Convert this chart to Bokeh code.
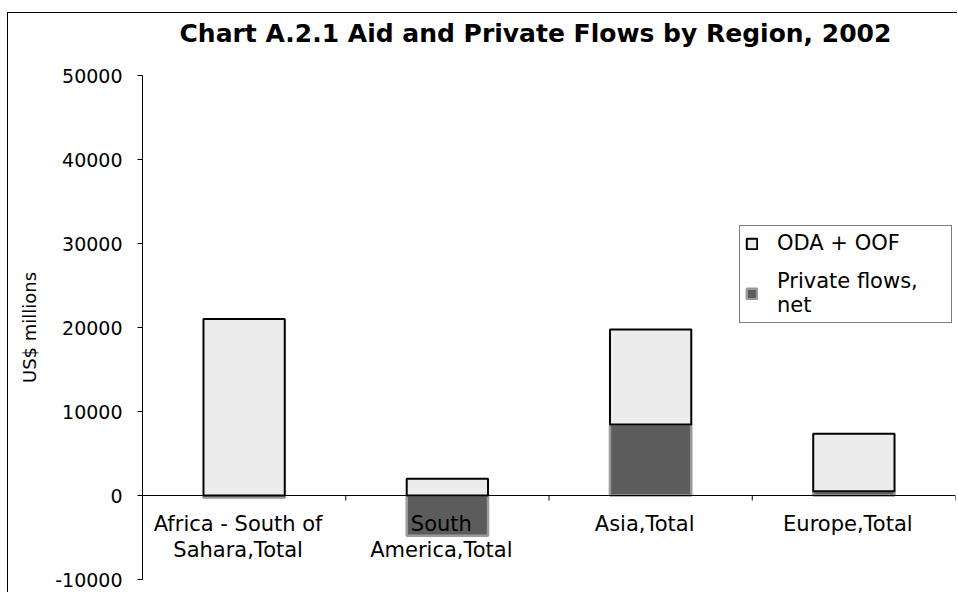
from bokeh.plotting import figure
from bokeh.models import Span, FixedTicker, ColumnDataSource, Legend, LegendItem, NumeralTickFormatter, Title
from bokeh.core.properties import value
from bokeh.embed import file_html
from bokeh.resources import INLINE

# ---- data ----
categories = ["Africa - South of\nSahara,Total", "South\nAmerica,Total", "Asia,Total", "Europe,Total"]
oda_oof = [21000, 2000, 11300, 6850]
private_net = [-250, -4800, 8450, 500]
y_ticks = [-10000, 0, 10000, 20000, 30000, 40000, 50000]
title_text = "Chart A.2.1 Aid and Private Flows by Region, 2002"
y_label = "US$ millions"
legend_labels = ["ODA + OOF", "Private flows,\nnet"]

# ---- stacking (Excel-style: negatives go below zero) ----
xc = [i + 0.5 for i in range(len(categories))]
priv_bottom = [min(0, v) for v in private_net]
priv_top = [max(0, v) for v in private_net]
oda_bottom = list(priv_top)
oda_top = [b + v for b, v in zip(oda_bottom, oda_oof)]
bounds = [i + 1 for i in range(len(categories))]

src = ColumnDataSource(dict(x=xc, pb=priv_bottom, pt=priv_top, ob=oda_bottom, ot=oda_top,
                            lab=categories, zero=[0] * len(categories)))

FONT = "DejaVu Sans"

p = figure(width=950, height=580, x_range=(0, len(categories)), y_range=(y_ticks[0], y_ticks[-1]),
           output_backend="svg", toolbar_location=None, x_axis_location=None,
           min_border_left=134, min_border_right=3, min_border_top=62, min_border_bottom=14)
p.styles = {"border-left": "1px solid black", "border-top": "1px solid black",
            "margin-left": "7px", "margin-top": "12px"}
p.grid.visible = False
p.outline_line_color = None
p.background_fill_color = "white"
p.border_fill_color = "white"

# title: a blank spacer sits between the frame and the real title
spacer = Title(text=" ", text_font_size="10px", standoff=13)
p.add_layout(spacer, "above")
main_title = Title(text=title_text, text_font=FONT, text_font_style="bold", text_font_size="25px",
                   text_color="black", align="left", vertical_align="top", offset=37, standoff=0)
p.add_layout(main_title, "above")

# y axis
ya = p.yaxis[0]
ya.ticker = FixedTicker(ticks=y_ticks, minor_ticks=[])
ya.formatter = NumeralTickFormatter(format="0")
ya.major_tick_out = 5
ya.major_tick_in = 0
ya.minor_tick_out = 0
ya.minor_tick_in = 0
ya.axis_line_color = "black"
ya.major_tick_line_color = "black"
ya.major_label_text_font = FONT
ya.major_label_text_font_size = "19px"
ya.major_label_text_color = "black"
ya.major_label_standoff = 15
ya.axis_label = y_label
ya.axis_label_text_font = FONT
ya.axis_label_text_font_size = "18px"
ya.axis_label_text_font_style = "normal"
ya.axis_label_text_color = "black"
ya.axis_label_standoff = 12

# bars
r_priv = p.vbar(x="x", bottom="pb", top="pt", width=0.4, source=src,
                fill_color="#5c5c5c", line_color="#9a9a9a", line_width=2.5)
r_oda = p.vbar(x="x", bottom="ob", top="ot", width=0.4, source=src,
               fill_color="#ececec", line_color="black", line_width=2)

# category axis drawn at zero
p.add_layout(Span(location=0, dimension="width", line_color="black", line_width=1))
p.segment(x0=bounds, y0=[0] * len(bounds), x1=bounds, y1=[-600] * len(bounds),
          line_color="black", line_width=1)
p.text(x="x", y="zero", text="lab", source=src, text_align="center", text_baseline="top",
       y_offset=16, x_offset=-6, text_font=value(FONT), text_font_size="21px",
       text_line_height=1.09, text_color="black")

legend = Legend(items=[LegendItem(label=legend_labels[0], renderers=[r_oda]),
                       LegendItem(label=legend_labels[1], renderers=[r_priv])],
                location=(597, 256), margin=0, padding=5, spacing=14,
                glyph_width=13, glyph_height=13, label_standoff=19, label_width=169,
                label_text_font=FONT, label_text_font_size="21px", label_text_color="black",
                label_text_line_height=1.7,
                border_line_color="black", border_line_width=1,
                background_fill_color="white", background_fill_alpha=1.0)
p.add_layout(legend)

open("out.html", "w").write(file_html(p, INLINE))
